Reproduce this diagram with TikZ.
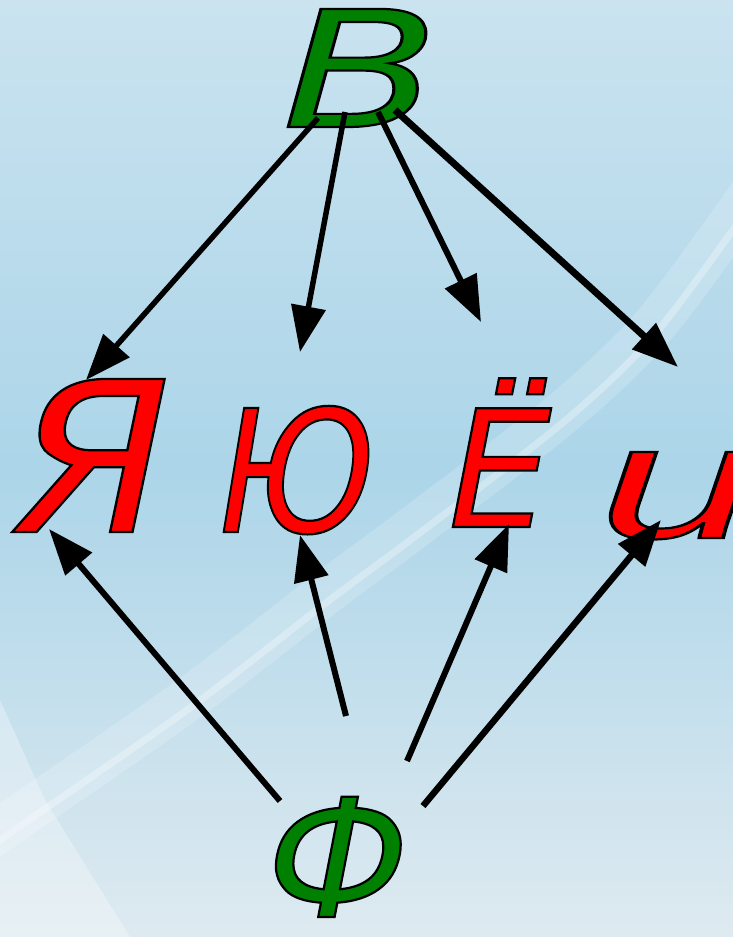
\documentclass[tikz,border=0pt]{standalone}
\usepackage{fontspec}
\setmainfont{DejaVu Sans}
\newfontfamily\arialit{Liberation Sans Italic}
\usetikzlibrary{arrows.meta}
\definecolor{bgtop}{RGB}{202,227,239}
\definecolor{bgmid}{RGB}{172,213,233}
\definecolor{bgbot}{RGB}{222,234,240}
\definecolor{lgreen}{RGB}{0,128,0}
\definecolor{lred}{RGB}{255,0,0}
\newcommand\outlined[2]{{\color{#1}\special{pdf:literal direct 0 0 0 RG 2 Tr 2.2 w}#2\special{pdf:literal direct 0 Tr}}}
\tikzset{
  letter/.style={inner sep=0pt, anchor=base},
  arr/.style={line width=6pt, black, -{Triangle[length=46pt,width=34pt]}},
}
\begin{document}
\begin{tikzpicture}[x=1pt,y=-1pt]
\useasboundingbox (0,0) rectangle (733,937);
\shade[top color=bgtop, bottom color=bgbot, middle color=bgmid] (0,0) rectangle (733,937);
% light streak
\draw[white, opacity=0.18, line width=44pt] plot[smooth] coordinates {(760,180) (733,220) (650,330) (560,415) (413,528) (327,592) (187,700) (0,830) (-40,860)};
\draw[white, opacity=0.3, line width=7pt] plot[smooth] coordinates {(760,190) (733,230) (650,340) (560,425) (413,538) (327,602) (187,710) (0,840) (-40,870)};
\fill[white, opacity=0.3] (0,700) -- (45,800) -- (130,937) -- (0,937) -- cycle;
% letters
\node[letter, font=\fontsize{162}{162}\selectfont\itshape] (B) at (361,127) {\scalebox{1.42}[1]{\outlined{lgreen}{В}}};
\node[letter, font=\fontsize{210}{210}\selectfont\itshape] (Ya) at (92,532) {\scalebox{1.08}[1]{\outlined{lred}{Я}}};
\node[letter, font=\fontsize{170}{170}\selectfont\itshape] (Yu) at (297,532) {\scalebox{0.85}[1]{\outlined{lred}{Ю}}};
\node[letter, font=\fontsize{163}{163}\selectfont\itshape] (Yo) at (500,527) {\outlined{lred}{Ё}};
\node[letter, font=\fontsize{163}{163}\selectfont\arialit] (i) at (678,538) {\scalebox{1.75}[1]{\outlined{lred}{и}}};
\node[letter, font=\fontsize{165}{165}\selectfont\itshape] (F) at (338,917) {\outlined{lgreen}{Ф}};
% arrow ends
\coordinate (b1) at (318,118); \coordinate (t1) at (86,380);
\coordinate (b2) at (345,112); \coordinate (t2) at (300,352);
\coordinate (b3) at (378,112); \coordinate (t3) at (481,322);
\coordinate (b4) at (395,110); \coordinate (t4) at (678,367);
\coordinate (f1) at (280,801); \coordinate (u1) at (49,529);
\coordinate (f2) at (346,716); \coordinate (u2) at (300,535);
\coordinate (f3) at (407,761); \coordinate (u3) at (509,524);
\coordinate (f4) at (423,806); \coordinate (u4) at (661,520);
\draw[arr, line width=5.5pt] (b1) -- (t1);
\draw[arr, line width=5.5pt] (b2) -- (t2);
\draw[arr] (b3) -- (t3);
\draw[arr, line width=7pt] (b4) -- (t4);
\draw[arr] (f1) -- (u1);
\draw[arr] (f2) -- (u2);
\draw[arr] (f3) -- (u3);
\draw[arr, line width=6.5pt] (f4) -- (u4);
\end{tikzpicture}
\end{document}
